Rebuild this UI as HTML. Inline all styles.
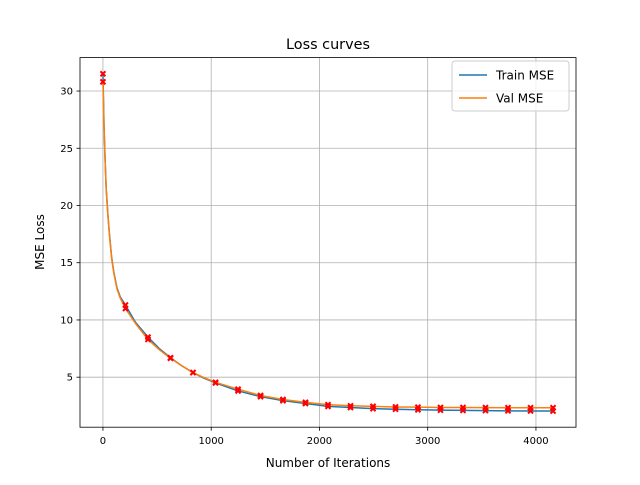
<!DOCTYPE html>
<html><head><meta charset="utf-8"><style>
body{margin:0;background:#fff;}
svg text{font-family:"DejaVu Sans","Liberation Sans",sans-serif;fill:#000;}
</style></head><body>
<svg width="640" height="480" viewBox="0 0 640 480">
<rect width="640" height="480" fill="#fff"/>
<g id="grid"></g>
<g id="series"></g>
<g id="markers"></g>
<rect x="80" y="57.6" width="496" height="369.6" fill="none" stroke="#000" stroke-width="0.8"/>
<g id="ticks"></g>
<text x="328" y="49" font-size="14.4" text-anchor="middle">Loss curves</text>
<text x="328" y="467" font-size="12" text-anchor="middle">Number of Iterations</text>
<text x="0" y="0" font-size="12" text-anchor="middle" transform="translate(44,242) rotate(-90)">MSE Loss</text>
<g>
<rect x="452" y="61" width="117" height="50" rx="3" fill="#fff" fill-opacity="0.8" stroke="#ccc" stroke-width="1"/>
<line x1="459" y1="75" x2="487" y2="75" stroke="#1f77b4" stroke-width="1.5"/>
<text x="496" y="79.5" font-size="12">Train MSE</text>
<line x1="459" y1="98" x2="487" y2="98" stroke="#ff7f0e" stroke-width="1.5"/>
<text x="496" y="102.5" font-size="12">Val MSE</text>
</g>
</svg>
<script>
const curveIters = [0,10,20,30,45,60,80,100,130,160,208,300,416,520,624,728,832,936,1040,1248,1456,1663,1871,2079,2287,2495,2703,2910,3118,3326,3534,3742,3950,4158];
const trainCurve = [31.5,27,24,21.5,19.3,17.5,15.5,14.2,12.8,12.0,11.3,9.8,8.5,7.5,6.7,6.0,5.4,4.9,4.5,3.8,3.3,2.95,2.7,2.45,2.35,2.25,2.2,2.15,2.12,2.1,2.08,2.06,2.05,2.04];
const valCurve = [30.8,26.8,23.9,21.4,19.2,17.4,15.4,14.1,12.7,11.9,11.0,9.7,8.3,7.4,6.65,6.0,5.4,4.95,4.55,3.95,3.4,3.05,2.8,2.6,2.5,2.45,2.4,2.38,2.35,2.35,2.34,2.33,2.33,2.33];
const markerIters = [0,208,416,624,832,1040,1248,1456,1663,1871,2079,2287,2495,2703,2910,3118,3326,3534,3742,3950,4158];
const trainMarks = [31.5,11.3,8.5,6.7,5.4,4.5,3.8,3.3,2.95,2.7,2.45,2.35,2.25,2.2,2.15,2.12,2.1,2.08,2.06,2.05,2.04];
const valMarks = [30.8,11.0,8.3,6.65,5.4,4.55,3.95,3.4,3.05,2.8,2.6,2.5,2.45,2.4,2.38,2.35,2.35,2.34,2.33,2.33,2.33];
const xTicks = [0,1000,2000,3000,4000];
const yTicks = [5,10,15,20,25,30];
const NS="http://www.w3.org/2000/svg";
const X0=80,X1=576,Y0=57.6,Y1=427.2;
const xMin=-212,xMax=4370,yMin=0.63,yMax=32.92;
function sx(v){return X0+(v-xMin)/(xMax-xMin)*(X1-X0);}
function sy(v){return Y1-(v-yMin)/(yMax-yMin)*(Y1-Y0);}
function mk(t,a,p){const e=document.createElementNS(NS,t);for(const k in a)e.setAttribute(k,a[k]);p.appendChild(e);return e;}
const grid=document.getElementById('grid'),ticks=document.getElementById('ticks');
xTicks.forEach(v=>{const x=sx(v);
 const g=mk('line',{x1:x,x2:x,y1:Y0,y2:Y1,stroke:'#b0b0b0','stroke-width':0.8},grid);
 
 
 mk('line',{x1:x,x2:x,y1:Y1,y2:Y1+3.5,stroke:'#000','stroke-width':0.8},ticks);
 const t=mk('text',{x:x,y:Y1+17,'font-size':10,'text-anchor':'middle'},ticks);t.textContent=v;
 
 
});
yTicks.forEach(v=>{const y=sy(v);
 const g=mk('line',{x1:X0,x2:X1,y1:y,y2:y,stroke:'#b0b0b0','stroke-width':0.8},grid);
 
 
 mk('line',{x1:X0-3.5,x2:X0,y1:y,y2:y,stroke:'#000','stroke-width':0.8},ticks);
 const t=mk('text',{x:X0-7,y:y+3.5,'font-size':10,'text-anchor':'end'},ticks);t.textContent=v;
 
 
});
const series=document.getElementById('series'),markers=document.getElementById('markers');
function line(vals,color,name){
 const p=mk('polyline',{points:curveIters.map((x,i)=>sx(x)+','+sy(vals[i])).join(' '),fill:'none',stroke:color,'stroke-width':1.5,'stroke-linejoin':'round'},series);
 
 
}
line(trainCurve,'#1f77b4','train-mse-line');
line(valCurve,'#ff7f0e','val-mse-line');
function marks(vals,name){
 markerIters.forEach((x,i)=>{const cx=sx(x),cy=sy(vals[i]),r=2.5;
  const m=mk('path',{d:`M${cx-r},${cy-r}L${cx+r},${cy+r}M${cx-r},${cy+r}L${cx+r},${cy-r}`,stroke:'#ff0000','stroke-width':2},markers);
  
  
 });
}
marks(trainMarks,'train-marker');
marks(valMarks,'val-marker');
</script>
</body></html>
